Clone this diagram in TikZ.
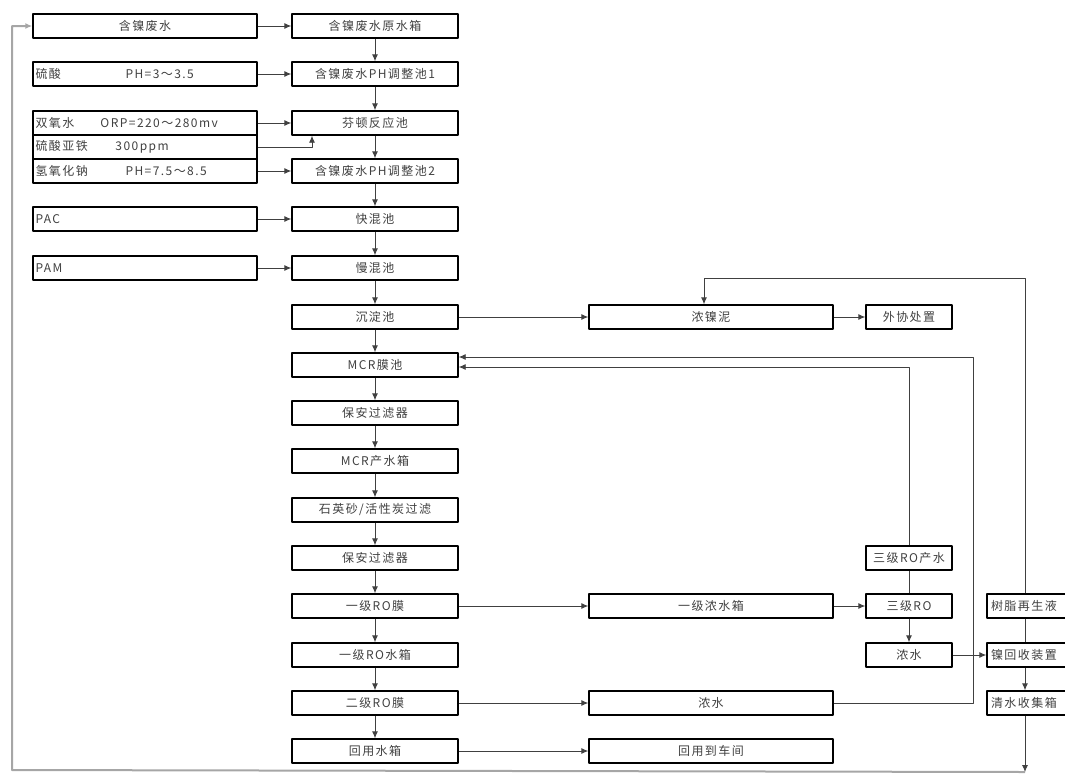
\documentclass[tikz,border=0pt]{standalone}
\usepackage{fontspec}
\setmainfont{Noto Sans CJK SC}[LetterSpace=12]
\usetikzlibrary{arrows.meta}

\begin{document}
\begin{tikzpicture}[x=1pt, y=-1pt, line join=round,
    box/.style={draw=black, line width=1.4pt, minimum height=24pt, inner sep=1pt,
      text=black!75, font=\fontsize{12}{12}\selectfont},
    lbox/.style={box, minimum width=224pt},
    pbox/.style={lbox, align=left, text width=219pt},
    mbox/.style={box, minimum width=166pt},
    wbox/.style={box, minimum width=244pt},
    sbox/.style={box, minimum width=86pt},
    ebox/.style={box, minimum width=88pt, align=left, text width=80pt},
    flow/.style={draw=black!75, line width=0.9pt, -{Latex[length=7pt,width=6pt]}},
    pipe/.style={draw=black!75, line width=0.9pt},
    back/.style={draw=black!35, line width=2pt, -{Latex[length=7pt,width=6pt]}}]

    \useasboundingbox (0,0) rectangle (1065,774);

    % Dosing column
    \node[lbox] (l1) at (145,26)  {含镍废水};
    \node[pbox] (l2) at (145,74)  {\makebox[90pt][l]{硫酸}PH=3～3.5};
    \node[pbox] (l3) at (145,123) {\makebox[65pt][l]{双氧水}ORP=220～280mv};
    \node[pbox] (l4) at (145,147) {\makebox[80pt][l]{硫酸亚铁}300ppm};
    \node[pbox] (l5) at (145,171) {\makebox[90pt][l]{氢氧化钠}PH=7.5～8.5};
    \node[pbox] (l6) at (145,219) {PAC};
    \node[pbox] (l7) at (145,268) {PAM};

    % Main treatment line
    \node[mbox] (m1)  at (375,26)  {含镍废水原水箱};
    \node[mbox] (m2)  at (375,74)  {含镍废水PH调整池1};
    \node[mbox] (m3)  at (375,123) {芬顿反应池};
    \node[mbox] (m4)  at (375,171) {含镍废水PH调整池2};
    \node[mbox] (m5)  at (375,219) {快混池};
    \node[mbox] (m6)  at (375,268) {慢混池};
    \node[mbox] (m7)  at (375,317) {沉淀池};
    \node[mbox] (m8)  at (375,365) {MCR膜池};
    \node[mbox] (m9)  at (375,413) {保安过滤器};
    \node[mbox] (m10) at (375,461) {MCR产水箱};
    \node[mbox] (m11) at (375,510) {石英砂/活性炭过滤};
    \node[mbox] (m12) at (375,558) {保安过滤器};
    \node[mbox] (m13) at (375,606) {一级RO膜};
    \node[mbox] (m14) at (375,655) {一级RO水箱};
    \node[mbox] (m15) at (375,703) {二级RO膜};
    \node[mbox] (m16) at (375,751) {回用水箱};

    % Side streams
    \node[wbox] (r1) at (711,317) {浓镍泥};
    \node[wbox] (r2) at (711,606) {一级浓水箱};
    \node[wbox] (r3) at (711,703) {浓水};
    \node[wbox] (r4) at (711,751) {回用到车间};

    \node[sbox] (s1) at (909,317) {外协处置};
    \node[sbox] (s2) at (909,558) {三级RO产水};
    \node[sbox] (s3) at (909,606) {三级RO};
    \node[sbox] (s4) at (909,655) {浓水};

    \node[ebox] (f1) at (1031,606) {树脂再生液};
    \node[ebox] (f2) at (1031,655) {镍回收装置};
    \node[ebox] (f3) at (1031,703) {清水收集箱};

    % Free ends of the return lines
    \coordinate (top) at (1025,278);
    \coordinate (ret) at (973,357);
    \coordinate (bot) at (1025,772);
    \coordinate (bl)  at (12,770);
    \coordinate (tl)  at (12,26);

    % Dosing arrows
    \draw[flow] (l1) -- (m1);
    \draw[flow] (l2) -- (m2);
    \draw[flow] (l3) -- (m3);
    \draw[flow] (l4.east) -| ([xshift=-63pt]m3.south);
    \draw[flow] (l5) -- (m4);
    \draw[flow] (l6) -- (m5);
    \draw[flow] (l7) -- (m6);

    % Main chain
    \foreach \a/\b in {m1/m2, m2/m3, m3/m4, m4/m5, m5/m6, m6/m7, m7/m8, m8/m9,
        m9/m10, m10/m11, m11/m12, m12/m13, m13/m14, m14/m15, m15/m16}
      \draw[flow] (\a) -- (\b);

    % Sludge
    \draw[flow] (m7) -- (r1);
    \draw[flow] (r1) -- (s1);
    \draw[flow] ([xshift=-6pt]f1.north) -- (top) -| ([xshift=-7pt]r1.north);

    % Concentrate treatment
    \draw[flow] (m13) -- (r2);
    \draw[flow] (r2) -- (s3);
    \draw[pipe] (s3) -- (s2);
    \draw[flow] (s2.north) |- ([yshift=-2pt]m8.east);
    \draw[flow] (s3) -- (s4);
    \draw[flow] (s4.east) -- (f2.west);
    \draw[flow] (m15) -- (r3);
    \draw[flow] (r3.east) -| (ret) -- ([yshift=8pt]m8.east);
    \draw[flow] (m16) -- (r4);

    % Nickel recovery
    \draw[pipe] ([xshift=-6pt]f1.south) -- ([xshift=-6pt]f2.north);
    \draw[flow] ([xshift=-6pt]f2.south) -- ([xshift=-6pt]f3.north);
    \draw[flow] ([xshift=-6pt]f3.south) -- (bot);
    \draw[back] (bot) -- (bl) -- (tl) -- (l1.west);

\end{tikzpicture}
\end{document}
